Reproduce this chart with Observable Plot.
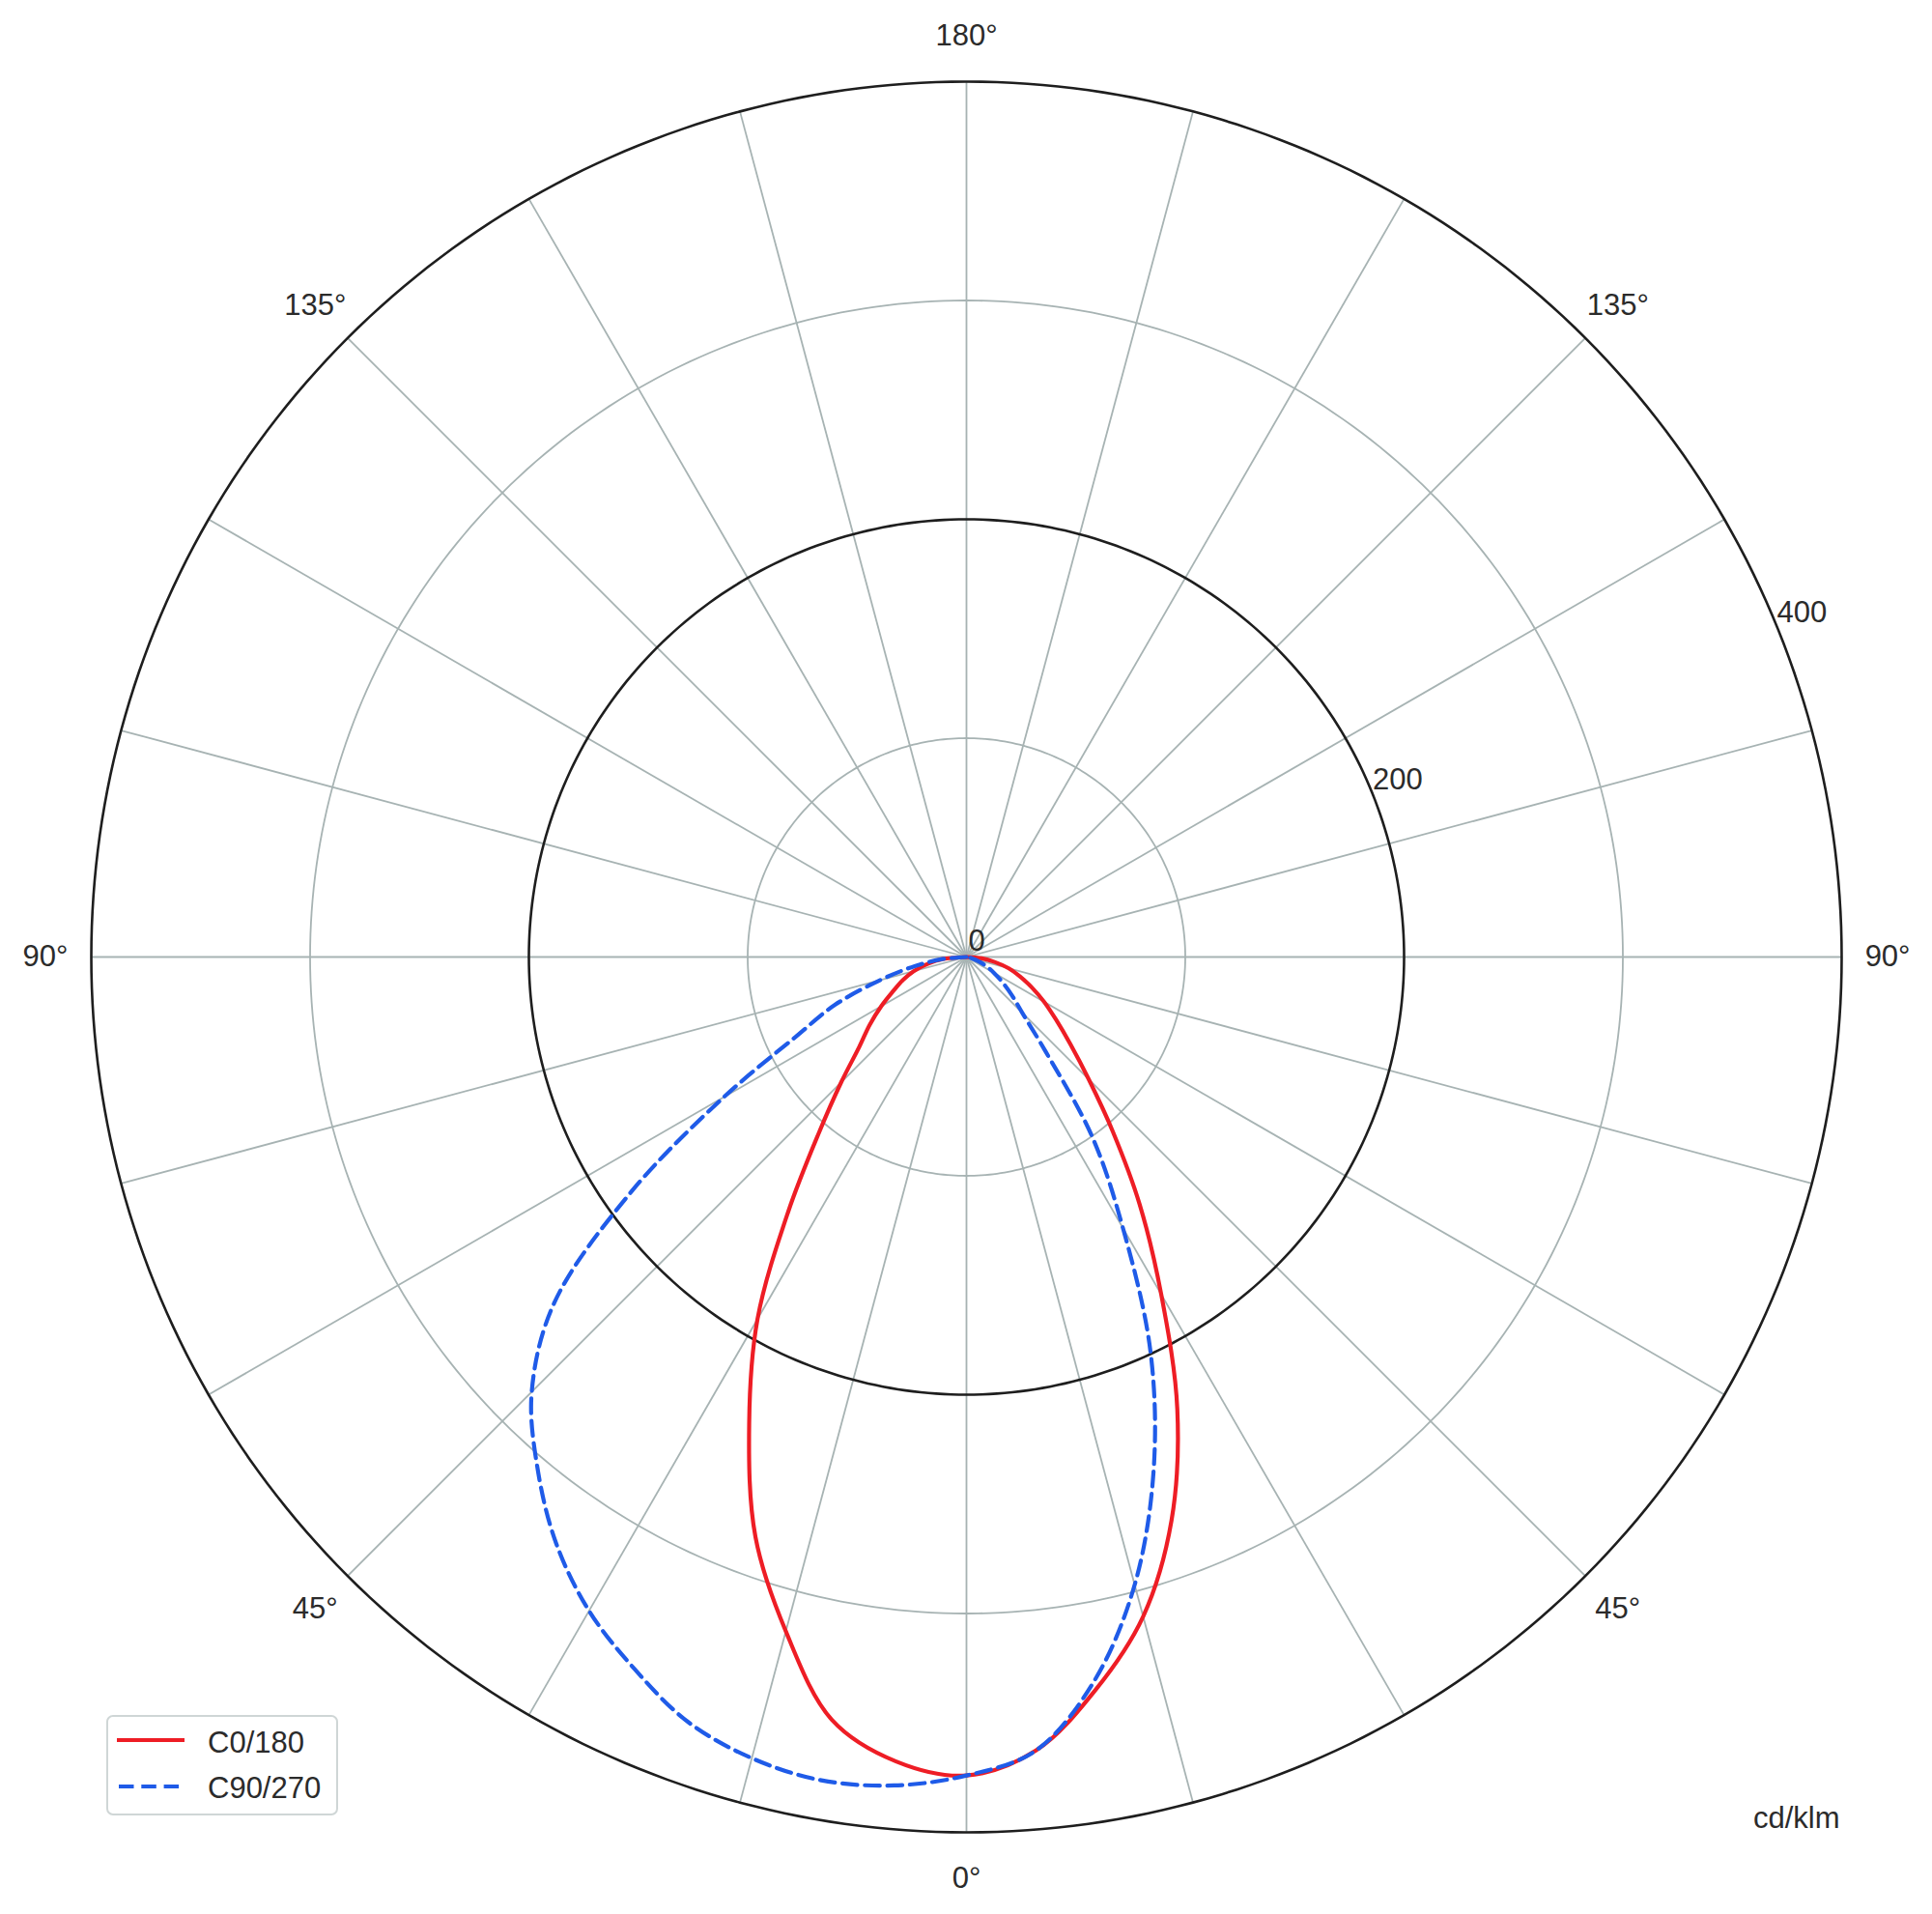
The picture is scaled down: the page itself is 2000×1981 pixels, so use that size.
<!DOCTYPE html>
<html>
<head>
<meta charset="utf-8">
<script src="https://cdn.jsdelivr.net/npm/d3@7"></script>
<script src="https://cdn.jsdelivr.net/npm/@observablehq/plot@0.6"></script>
<style>
  html, body { margin: 0; padding: 0; background: #fff; }
  #wrap { position: relative; width: 2000px; height: 1981px; }
  #legend { position: absolute; left: 110px; top: 1775px; }
  text { font-family: "Liberation Sans", Arial, sans-serif; }
</style>
</head>
<body>
<div id="wrap"></div>
<script>
// Vertical angle gamma (degrees from nadir) at which intensities were read
const gamma = [0, 5, 10, 15, 20, 25, 30, 35, 40, 45, 50, 55, 60, 65, 70, 75, 80, 85, 90];
// Luminous intensity, cd/klm
const c0   = [374, 364, 340, 312, 274, 228, 178, 138, 104, 79, 62, 50, 41, 33, 26, 20, 13, 7, 0];      // right half, red
const c180 = [374, 369, 354, 319, 282, 235, 191, 142, 105, 81, 64, 54, 45, 37, 31, 25, 18, 11, 0];     // left half, red
const c90  = [374, 364, 336, 297, 250, 199, 143, 100, 56, 36, 27, 20, 14.5, 10, 6, 3, 1.5, 0.5, 0];    // right half, blue
const c270 = [374, 380, 382, 379, 372, 359, 345, 327, 305, 281, 246, 187, 128, 86, 64, 41, 24, 11, 0]; // left half, blue

const seriesNames = ["C0/180", "C90/270"];
const seriesColors = ["#ee1d25", "#1f5be8"];
const angleTicks = [0, 45, 90, 135, 180];
const radialTicks = [0, 200, 400];
const rings = [100, 200, 300, 400];
const majorRings = [200, 400];
const spokeStep = 15;
const rMax = 400;
const unit = "cd/klm";

const rad = d => d * Math.PI / 180;
// polar (gamma from nadir, side: -1 left, +1 right) -> cartesian in cd/klm units
const toXY = (g, v, side) => ({x: side * v * Math.sin(rad(g)), y: -v * Math.cos(rad(g))});

function curvePoints(left, right) {
  const pts = [];
  for (let i = gamma.length - 1; i >= 0; i--) pts.push(toXY(gamma[i], left[i], -1));
  for (let i = 1; i < gamma.length; i++) pts.push(toXY(gamma[i], right[i], 1));
  return pts;
}
const redPts = curvePoints(c180, c0);
const bluePts = curvePoints(c270, c90);

// grid geometry
const ringPts = [];
for (const r of rings) {
  for (let a = 0; a <= 360; a += 1) ringPts.push({r, major: majorRings.includes(r), x: r * Math.cos(rad(a)), y: r * Math.sin(rad(a))});
}
const spokes = d3.range(0, 360, spokeStep).map(a => ({x2: rMax * Math.sin(rad(a)), y2: rMax * Math.cos(rad(a))}));

const angleLabels = [];
for (const t of angleTicks) {
  const sides = (t === 0 || t === 180) ? [1] : [-1, 1];
  for (const s of sides) { const p = toXY(t, 421, s); angleLabels.push({...p, label: t + "°"}); }
}
const radAngle = rad(22.5);
const radialLabels = radialTicks.map(v => ({x: v * Math.cos(radAngle), y: v * Math.sin(radAngle), label: String(v), zero: v === 0}));

const textColor = "#2b2b2b";
const gridGray = "#a7b3b3";
const gridDark = "#1e1e1e";
const fs = 31;

const chart = Plot.plot({
  width: 2000,
  height: 1981,
  margin: 0,
  x: {domain: [-rMax, rMax], range: [94, 1906], axis: null},
  y: {domain: [-rMax, rMax], range: [1896, 84], axis: null},
  style: {background: "white", fontFamily: "'Liberation Sans', Arial, sans-serif", overflow: "visible"},
  marks: [
    Plot.link(spokes, {x1: 0, y1: 0, x2: "x2", y2: "y2", stroke: gridGray, strokeWidth: 1.8}),
    Plot.line(ringPts.filter(d => !d.major), {x: "x", y: "y", z: "r", stroke: gridGray, strokeWidth: 1.8}),
    Plot.line(ringPts.filter(d => d.major), {x: "x", y: "y", z: "r", stroke: gridDark, strokeWidth: 2.6}),
    Plot.line(redPts, {x: "x", y: "y", stroke: seriesColors[0], strokeWidth: 4.2, curve: "catmull-rom"}),
    Plot.line(bluePts, {x: "x", y: "y", stroke: seriesColors[1], strokeWidth: 4.2, strokeDasharray: "15.5,7.8", curve: "catmull-rom"}),
    Plot.text(angleLabels, {x: "x", y: "y", text: "label", fontSize: fs, fill: textColor, textAnchor: "middle", lineAnchor: "middle"}),
    Plot.text(radialLabels.filter(d => !d.zero), {x: "x", y: "y", text: "label", fontSize: fs, fill: textColor, textAnchor: "start", lineAnchor: "bottom", dx: 2}),
    Plot.text(radialLabels.filter(d => d.zero), {x: "x", y: "y", text: "label", fontSize: fs, fill: textColor, textAnchor: "start", lineAnchor: "bottom", dx: 2, dy: -7}),
    Plot.text([unit], {frameAnchor: "bottom-right", text: d => d, fontSize: fs, fill: textColor, dx: -96, dy: -90})
  ]
});

const wrap = document.getElementById("wrap");
wrap.appendChild(chart);

// legend overlay
const ns = "http://www.w3.org/2000/svg";
const leg = document.createElementNS(ns, "svg");
leg.setAttribute("id", "legend");
leg.setAttribute("width", 242);
leg.setAttribute("height", 106);
const mk = (tag, attrs) => { const e = document.createElementNS(ns, tag); for (const k in attrs) e.setAttribute(k, attrs[k]); leg.appendChild(e); return e; };
mk("rect", {x: 1, y: 1, width: 238, height: 102, rx: 6, ry: 6, fill: "white", "fill-opacity": 0.85, stroke: "#cfd6d6", "stroke-width": 2});
mk("line", {x1: 11, y1: 26, x2: 81, y2: 26, stroke: seriesColors[0], "stroke-width": 4.2});
mk("line", {x1: 13, y1: 74, x2: 81, y2: 74, stroke: seriesColors[1], "stroke-width": 4.2, "stroke-dasharray": "15.5,7.8"});
const t1 = mk("text", {x: 105, y: 39, "font-size": fs, fill: textColor}); t1.textContent = seriesNames[0];
const t2 = mk("text", {x: 105, y: 86, "font-size": fs, fill: textColor}); t2.textContent = seriesNames[1];
wrap.appendChild(leg);
</script>
</body>
</html>
